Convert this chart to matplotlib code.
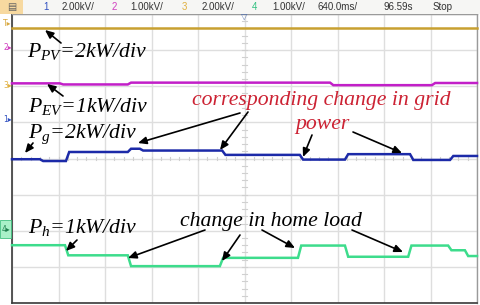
import numpy as np
import matplotlib.pyplot as plt

# === DATA (screen divisions: x 0..10, y 0..8) ===
pv_edges = [0.0, 10.0]
pv_levels = [7.61]

ev_edges = [0.0, 1.03, 2.49, 6.84, 9.03, 10.0]
ev_levels = [6.08, 6.05, 6.10, 6.03, 6.09]

pg_edges = [0.0, 0.60, 1.16, 2.49, 2.75, 4.52, 6.19, 7.16, 8.56, 9.42, 10.0]
pg_levels = [3.98, 3.93, 4.18, 4.27, 4.22, 4.10, 3.97, 4.12, 3.96, 4.07]

ph_edges = [0.0, 1.14, 2.49, 4.47, 6.15, 7.16, 8.52, 9.38, 9.74, 10.0]
ph_levels = [1.60, 1.32, 1.02, 1.25, 1.59, 1.28, 1.59, 1.46, 1.30]

header_items = [("1", "#3050c0"), ("2.00kV/", "#333333"), ("2", "#d040c0"), ("1.00kV/", "#333333"),
                ("3", "#e0b040"), ("2.00kV/", "#333333"), ("4", "#30c080"), ("1.00kV/", "#333333"),
                ("640.0ms/", "#333333"), ("96.59s", "#333333"), ("Stop", "#333333")]
header_x = [43, 62, 112, 130, 182, 202, 252, 272, 318, 383, 433]


def step_path(edges, levels, ramp=0.07):
    xs, ys = [], []
    for i, lv in enumerate(levels):
        x0 = edges[i] + (ramp if i > 0 else 0)
        xs += [x0, edges[i + 1]]
        ys += [lv, lv]
    return np.array(xs), np.array(ys)


W, H = 480, 305
fig = plt.figure(figsize=(4.8, 3.05), dpi=100)
fig.patch.set_facecolor("white")

L, T, R, B = 12, 14, 477, 303
ax = fig.add_axes([L / W, 1 - B / H, (R - L) / W, (B - T) / H])
ax.set_xlim(0, 10)
ax.set_ylim(0, 8)
ax.set_xticks(range(11))
ax.set_yticks(range(9))
ax.tick_params(length=0, labelbottom=False, labelleft=False)
ax.grid(True, color="#dedede", lw=1.0)
ax.set_axisbelow(True)
for s in ["left", "bottom"]:
    ax.spines[s].set_color("#3a3a3a")
    ax.spines[s].set_linewidth(1.2)
for s in ["right", "top"]:
    ax.spines[s].set_color("#9a9a9a")
    ax.spines[s].set_linewidth(1.0)

# minor ticks on centre lines
for t in np.arange(0, 10, 0.2):
    ax.plot([t, t], [3.95, 4.05], color="#d0d0d0", lw=0.8, zorder=1)
for t in np.arange(0, 8, 0.2):
    ax.plot([4.95, 5.05], [t, t], color="#d0d0d0", lw=0.8, zorder=1)

# traces
for edges, levels, col in [(pv_edges, pv_levels, "#c8a030"),
                           (ev_edges, ev_levels, "#c21fc8"),
                           (pg_edges, pg_levels, "#1c2aa8"),
                           (ph_edges, ph_levels, "#3ddc8c")]:
    xs, ys = step_path(edges, levels)
    ax.plot(xs, ys, color=col, lw=1.8, solid_joinstyle="miter", zorder=3, clip_on=False)

# === HEADER ===
fig.patches.append(plt.Rectangle((0, (H - 14) / H), 1, 14 / H, transform=fig.transFigure,
                                 facecolor="#f6f6f4", edgecolor="none", zorder=0))
fig.patches.append(plt.Rectangle((0, (H - 14) / H), 23 / W, 14 / H, transform=fig.transFigure,
                                 facecolor="#f7d9a0", edgecolor="none", zorder=1))
fig.text(7 / W, 1 - 7 / H, "\u25a4", fontsize=7, color="#606060", va="center", ha="left")
for (txt, col), x in zip(header_items, header_x):
    fig.text(x / W, 1 - 7.5 / H, txt, fontsize=7, color=col, family="Liberation Sans",
             va="center", ha="left")
fig.text(244 / W, 1 - 16 / H, "\u25bd", fontsize=6, color="#5070b0", va="center", ha="center")

# channel markers at left edge
for y, lab, col in [(23, "T", "#d8a840"), (48, "2", "#d040c0"), (85, "3", "#e0b040"),
                    (120, "1", "#3050c0")]:
    fig.text(3 / W, 1 - y / H, lab + "\u25b8", fontsize=5.5, color=col, va="center", ha="left")
fig.patches.append(plt.Rectangle((0, 1 - 238 / H), 11 / W, 18 / H, transform=fig.transFigure,
                                 facecolor="#a8f0c8", edgecolor="#40c080", lw=0.6, zorder=2))
fig.text(2 / W, 1 - 229 / H, "4\u25b8", fontsize=5.5, color="#208050", va="center", ha="left")

# === ANNOTATIONS ===
plt.rcParams["mathtext.fontset"] = "custom"
plt.rcParams["mathtext.it"] = "Liberation Serif:italic"
plt.rcParams["mathtext.rm"] = "Liberation Serif:italic"


def px(x, y):
    return (x, H - y)


tkw = dict(family="Liberation Serif", style="italic", fontsize=15.7, va="baseline", ha="left")
fig.text(27 / W, 1 - 57 / H, r"$P_{PV}$=2kW/div", color="black", **tkw)
fig.text(28 / W, 1 - 112 / H, r"$P_{EV}$=1kW/div", color="black", **tkw)
fig.text(28 / W, 1 - 138 / H, r"$P_{g}$=2kW/div", color="black", **tkw)
fig.text(28 / W, 1 - 233 / H, r"$P_{h}$=1kW/div", color="black", **tkw)
fig.text(180 / W, 1 - 226 / H, "change in home load", color="black", **tkw)
fig.text(192 / W, 1 - 105 / H, "corresponding change in grid", color="#cc2233", **tkw)
fig.text(295 / W, 1 - 129 / H, "power", color="#cc2233", **tkw)

arrows = [((61, 43), (45, 30)), ((63, 96), (47, 84)), ((33, 143), (25, 153)),
          ((240, 113), (138, 143)), ((248, 112), (220, 150)),
          ((312, 135), (303, 157)), ((353, 132), (402, 153)),
          ((77, 240), (66, 251)),
          ((205, 230), (128, 258)), ((240, 235), (222, 261)),
          ((262, 230), (295, 248)), ((352, 230), (403, 252))]
for tail, head in arrows:
    fig.add_artist(plt.Annotation("", xy=px(*head), xycoords="figure pixels",
                                  xytext=px(*tail), textcoords="figure pixels",
                                  arrowprops=dict(arrowstyle="-|>,head_length=0.5,head_width=0.22",
                                                  color="black", lw=1.2, shrinkA=0, shrinkB=0)))

fig.savefig("out.png", dpi=100)
